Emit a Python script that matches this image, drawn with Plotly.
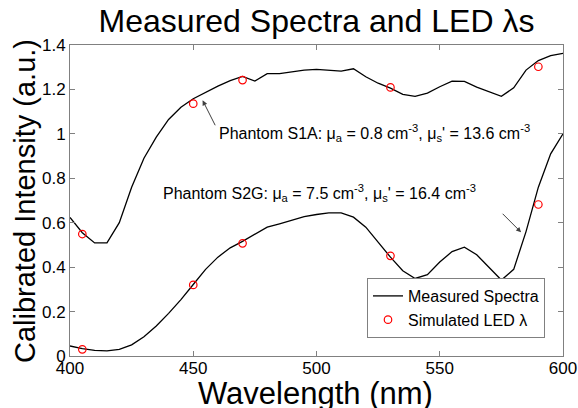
import plotly.graph_objects as go

# ---- data ----
wavelength = [400, 405, 410, 415, 420, 425, 430, 435, 440, 445, 450, 455, 460, 465, 470,
              475, 480, 485, 490, 495, 500, 505, 510, 515, 520, 525, 530, 535, 540, 545,
              550, 555, 560, 565, 570, 575, 580, 585, 590, 595, 600]
s1a_spectrum = [0.624, 0.555, 0.509, 0.509, 0.60, 0.76, 0.89, 0.985, 1.065, 1.12, 1.158,
                1.187, 1.215, 1.24, 1.259, 1.238, 1.271, 1.271, 1.28, 1.287, 1.29, 1.285,
                1.282, 1.293, 1.257, 1.228, 1.206, 1.178, 1.169, 1.183, 1.212, 1.237, 1.236,
                1.21, 1.19, 1.169, 1.207, 1.287, 1.33, 1.352, 1.362]
s2g_spectrum = [0.045, 0.033, 0.025, 0.023, 0.03, 0.05, 0.087, 0.135, 0.192, 0.254, 0.322,
                0.39, 0.445, 0.487, 0.516, 0.548, 0.58, 0.595, 0.61, 0.627, 0.637, 0.644,
                0.644, 0.625, 0.58, 0.51, 0.445, 0.384, 0.349, 0.366, 0.423, 0.47, 0.49,
                0.456, 0.40, 0.342, 0.39, 0.56, 0.76, 0.91, 1.0]
led_wavelength = [405, 450, 470, 530, 590]
s1a_led = [0.549, 1.136, 1.242, 1.209, 1.302]
s2g_led = [0.03, 0.32, 0.507, 0.451, 0.682]

x_ticks = [400, 450, 500, 550, 600]
y_ticks = [0, 0.2, 0.4, 0.6, 0.8, 1, 1.2, 1.4]

FONT = "Liberation Sans, Arial, sans-serif"
AXC = "#808080"

fig = go.Figure()
fig.add_trace(go.Scatter(x=wavelength, y=s1a_spectrum, mode="lines",
                         line=dict(color="black", width=1.3), name="Measured Spectra"))
fig.add_trace(go.Scatter(x=wavelength, y=s2g_spectrum, mode="lines",
                         line=dict(color="black", width=1.3), name="Measured Spectra",
                         showlegend=False))
fig.add_trace(go.Scatter(x=led_wavelength, y=s1a_led, mode="markers",
                         marker=dict(symbol="circle-open", size=7.5, color="red",
                                     line=dict(width=1.2, color="red")),
                         name="Simulated LED λ"))
fig.add_trace(go.Scatter(x=led_wavelength, y=s2g_led, mode="markers",
                         marker=dict(symbol="circle-open", size=7.5, color="red",
                                     line=dict(width=1.2, color="red")),
                         name="Simulated LED λ", showlegend=False))

# text labels
fig.add_annotation(
    x=(217 - 70) / 493, y=(356 - 132.5) / 311, xref="paper", yref="paper",
    xanchor="left", yanchor="middle",
    text="Phantom S1A: μ<sub>a</sub> = 0.8 cm<sup>-3</sup>, μ<sub>s</sub>' = 13.6 cm<sup>-3</sup>",
    showarrow=False, font=dict(family=FONT, size=16, color="black"))
fig.add_annotation(
    x=(161 - 70) / 493, y=(356 - 193) / 311, xref="paper", yref="paper",
    xanchor="left", yanchor="middle",
    text="Phantom S2G: μ<sub>a</sub> = 7.5 cm<sup>-3</sup>, μ<sub>s</sub>' = 16.4 cm<sup>-3</sup>",
    showarrow=False, font=dict(family=FONT, size=16, color="black"))

# axis titles (placed as annotations for exact positioning, as in the reference)
fig.add_annotation(
    x=(315 - 70) / 493, y=(356 - 393) / 311, xref="paper", yref="paper",
    xanchor="center", yanchor="middle", text="Wavelength (nm)", showarrow=False,
    font=dict(family=FONT, size=31, color="black"))
fig.add_annotation(
    x=(25 - 70) / 493, y=(356 - 201) / 311, xref="paper", yref="paper",
    xanchor="center", yanchor="middle", text="Calibrated Intensity (a.u.)", textangle=-90,
    showarrow=False, font=dict(family=FONT, size=29, color="black"))

# arrows
fig.add_annotation(x=453.8, y=1.151, ax=459.2, ay=1.032, xref="x", yref="y", axref="x", ayref="y",
                   text="", showarrow=True, arrowhead=2, arrowsize=1, arrowwidth=1,
                   arrowcolor="#404040")
fig.add_annotation(x=583.0, y=0.557, ax=574.9, ay=0.647, xref="x", yref="y", axref="x", ayref="y",
                   text="", showarrow=True, arrowhead=2, arrowsize=1, arrowwidth=1,
                   arrowcolor="#404040")

fig.update_layout(
    width=578, height=408,
    margin=dict(l=70, r=15, t=45, b=52),
    plot_bgcolor="white", paper_bgcolor="white",
    font=dict(family=FONT, color="black"),
    title=dict(text="Measured Spectra and LED λs", x=(70 + 493 / 2) / 578, xanchor="center",
               y=1 - 21 / 408, yanchor="middle", yref="container",
               font=dict(family=FONT, size=32, color="black")),
    legend=dict(x=(545 - 70) / 493, y=(356 - 338) / 311, xanchor="right", yanchor="bottom",
                bgcolor="white", bordercolor=AXC, borderwidth=1,
                font=dict(family=FONT, size=16, color="black"),
                itemwidth=30, tracegroupgap=0),
    showlegend=True,
)
fig.update_xaxes(range=[400, 600], tickvals=x_ticks, ticks="inside", ticklen=5, tickcolor=AXC,
                 showline=True, linecolor=AXC, linewidth=1, mirror="ticks", showgrid=False,
                 zeroline=False, automargin=False, ticklabelstandoff=-3,
                 tickfont=dict(family=FONT, size=17, color="black"))
fig.update_yaxes(range=[0, 1.4], tickvals=y_ticks, ticks="inside", ticklen=5, tickcolor=AXC,
                 showline=True, linecolor=AXC, linewidth=1, mirror="ticks", showgrid=False,
                 zeroline=False, automargin=False,
                 tickfont=dict(family=FONT, size=17, color="black"))

fig.write_html("out.html")
